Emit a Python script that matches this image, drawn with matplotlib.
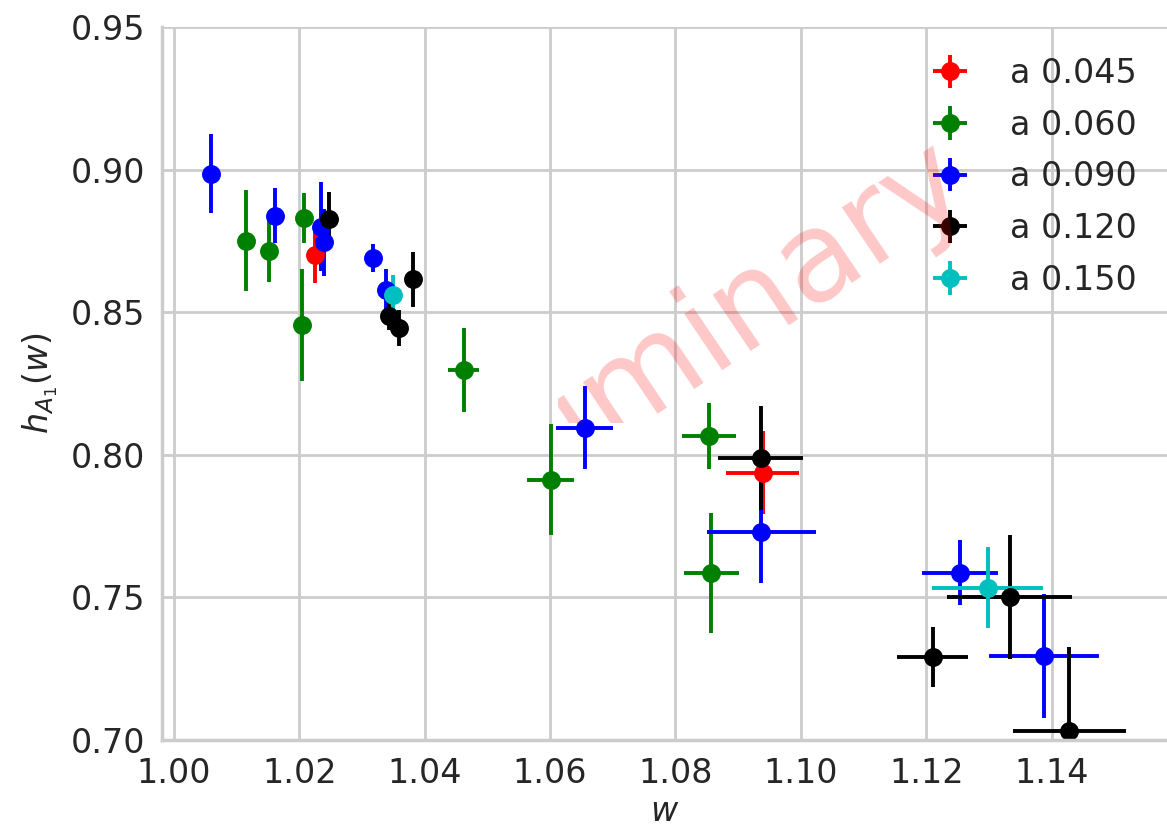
"""
Form factor h_A1(w) for several lattice spacings.
"""

import matplotlib
matplotlib.use("Agg")
import matplotlib.pyplot as plt
from matplotlib.transforms import Bbox, TransformedBbox


spacing_labels = ["a 0.045", "a 0.060", "a 0.090", "a 0.120", "a 0.150"]
spacing_colors = ["r", "g", "b", "k", "c"]

# w, h_A1, error in h, error in w
w_045 = [1.0225, 1.0939]
h_045 = [0.8702, 0.7937]
dh_045 = [0.0099, 0.0146]
dw_045 = [0.0006, 0.0058]

w_060 = [1.0115, 1.0152, 1.0207, 1.0205, 1.0462, 1.0601, 1.0854, 1.0857]
h_060 = [0.8751, 0.8715, 0.8831, 0.8455, 0.8297, 0.7913, 0.8066, 0.7586]
dh_060 = [0.0178, 0.0110, 0.0087, 0.0197, 0.0147, 0.0195, 0.0116, 0.0211]
dw_060 = [0.0004, 0.0004, 0.0005, 0.0005, 0.0025, 0.0037, 0.0043, 0.0044]

w_090 = [1.0059, 1.0161, 1.0234, 1.0239, 1.0318, 1.0339, 1.0655, 1.0937, 1.1254, 1.1388]
h_090 = [0.8986, 0.8839, 0.8800, 0.8745, 0.8690, 0.8578, 0.8095, 0.7729, 0.7587, 0.7295]
dh_090 = [0.0139, 0.0098, 0.0157, 0.0118, 0.0050, 0.0075, 0.0145, 0.0180, 0.0115, 0.0217]
dw_090 = [0.0003, 0.0004, 0.0005, 0.0005, 0.0006, 0.0007, 0.0045, 0.0087, 0.0060, 0.0088]

w_120 = [1.0248, 1.0343, 1.0359, 1.0381, 1.0936, 1.1333, 1.1210, 1.1428]
h_120 = [0.8826, 0.8488, 0.8444, 0.8615, 0.7989, 0.7502, 0.7291, 0.7031]
dh_120 = [0.0094, 0.0050, 0.0063, 0.0095, 0.0183, 0.0217, 0.0105, 0.0296]
dw_120 = [0.0005, 0.0006, 0.0006, 0.0007, 0.0068, 0.0100, 0.0057, 0.0090]

w_150 = [1.0350, 1.1298]
h_150 = [0.8562, 0.7534]
dh_150 = [0.0067, 0.0143]
dw_150 = [0.0007, 0.0089]

x_ticks = [1.00, 1.02, 1.04, 1.06, 1.08, 1.10, 1.12, 1.14]
y_ticks = [0.70, 0.75, 0.80, 0.85, 0.90, 0.95]


plt.rcParams.update({
    "font.family": ["DejaVu Sans"],
    "font.size": 12,
    "axes.edgecolor": "#cccccc",
    "axes.linewidth": 1.25,
    "grid.color": "#cccccc",
    "grid.linewidth": 1.0,
    "text.color": "#262626",
    "axes.labelcolor": "#262626",
    "xtick.color": "#262626",
    "ytick.color": "#262626",
    "xtick.major.size": 0,
    "ytick.major.size": 0,
    "mathtext.fontset": "dejavusans",
})

fig = plt.figure(figsize=(5.835, 4.16), dpi=200)
ax = fig.add_axes([0.1388, 0.1106, 0.8612, 0.8569])
ax.set_axisbelow(True)
ax.grid(True)

all_sets = [
    (w_045, h_045, dh_045, dw_045),
    (w_060, h_060, dh_060, dw_060),
    (w_090, h_090, dh_090, dw_090),
    (w_120, h_120, dh_120, dw_120),
    (w_150, h_150, dh_150, dw_150),
]

for (w, h, dh, dw), label, color in zip(all_sets, spacing_labels, spacing_colors):
    ax.errorbar(w, h, yerr=dh, xerr=dw, fmt="o", color=color,
                markersize=5.8, elinewidth=1.4, capsize=0, label=label)

ax.set_xlim(0.9981, 1.1584)
ax.set_ylim(0.70, 0.95)
ax.set_xticks(x_ticks)
ax.set_yticks(y_ticks)
ax.set_xticklabels([f"{t:.2f}" for t in x_ticks])
ax.set_yticklabels([f"{t:.2f}" for t in y_ticks])
ax.tick_params(axis="both", labelsize=12, pad=6)

ax.set_xlabel(r"$w$", fontsize=12, labelpad=2)
ax.set_ylabel(r"$h_{A_1}(w)$", fontsize=12, labelpad=4)

for side in ["right", "top"]:
    ax.spines[side].set_visible(False)

ax.legend(loc="upper right", frameon=False, fontsize=12, labelspacing=0.56)

# watermark, drawn over the data and cut to the upper right region
stamp = ax.text(0.497, 0.531, "Preliminary", transform=ax.transAxes,
                fontsize=45, color="red", alpha=0.22, rotation=34,
                ha="center", va="center", zorder=10)
stamp.set_clip_box(TransformedBbox(Bbox([[1.0612, 0.8111], [1.30, 1.10]]),
                                   ax.transData))
stamp.set_clip_on(True)

fig.savefig("out.png", dpi=200)
